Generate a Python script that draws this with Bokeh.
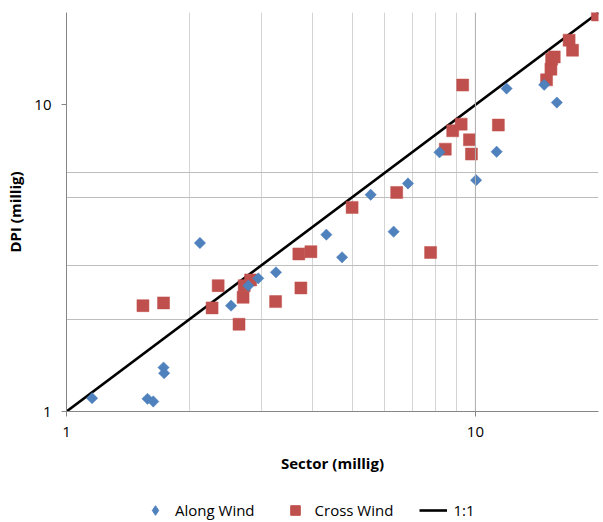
from bokeh.plotting import figure
from bokeh.models import FixedTicker, Legend, LegendItem, Span
from bokeh.layouts import column
from bokeh.embed import file_html
from bokeh.resources import INLINE

# Along Wind (blue diamonds)
along_x = [1.155, 1.578, 1.63, 1.727, 1.733, 2.12, 2.526, 2.784, 2.944, 3.253,
           4.32, 4.72, 5.545, 6.31, 6.84, 8.17, 10.04, 11.27, 11.92, 14.73, 15.82]
along_y = [1.105, 1.10, 1.078, 1.391, 1.333, 3.544, 2.214, 2.573, 2.718, 2.843,
           3.772, 3.182, 5.09, 3.858, 5.54, 7.0, 5.68, 7.03, 11.3, 11.62, 10.17]

# Cross Wind (red squares)
cross_x = [1.538, 1.727, 2.27, 2.349, 2.642, 2.703, 2.72, 2.82, 3.246, 3.70,
           3.743, 3.96, 4.994, 6.42, 7.77, 8.44, 8.80, 9.23, 9.67, 9.78,
           9.31, 11.38, 14.93, 15.3, 15.36, 15.59, 16.95, 17.28, 19.87]
cross_y = [2.214, 2.26, 2.177, 2.573, 1.925, 2.357, 2.573, 2.685, 2.282, 3.264,
           2.529, 3.32, 4.63, 5.18, 3.30, 7.17, 8.23, 8.65, 7.69, 6.91,
           11.6, 8.59, 12.06, 13.07, 14.09, 14.33, 16.25, 15.07, 19.64]

# 1:1 reference line
line_vals = [1, 20]

x_ticks = [1, 10]
x_tick_labels = ["1", "10"]
y_ticks = [1, 10]
y_tick_labels = ["1", "10"]
x_grid_vals = [2, 3, 4, 5, 6, 7, 8, 9, 10, 20]
y_grid_vals = [2, 3, 5, 6]

BLUE = "#4F81BD"
RED = "#C0504D"
FONT = "Open Sans"

p = figure(width=603, height=498, x_axis_type="log", y_axis_type="log",
           x_range=(1, 20), y_range=(1, 20),
           output_backend="svg", toolbar_location=None,
           min_border_left=66, min_border_right=5, min_border_top=12,
           min_border_bottom=87)
p.outline_line_color = None

# grids
p.xgrid.ticker = FixedTicker(ticks=x_grid_vals)
p.ygrid.ticker = FixedTicker(ticks=y_grid_vals)
p.xgrid.grid_line_color = "#d4d4d4"
p.ygrid.grid_line_color = "#bdbdbd"
p.add_layout(Span(location=10, dimension="height", line_color="#b0b0b0", line_width=1))

# axes
for ax, ticks, labels in ((p.xaxis[0], x_ticks, x_tick_labels), (p.yaxis[0], y_ticks, y_tick_labels)):
    ax.ticker = FixedTicker(ticks=ticks)
    ax.major_label_overrides = {t: l for t, l in zip(ticks, labels)}
    ax.minor_tick_line_color = None
    ax.major_tick_in = 0
    ax.major_tick_out = 5
    ax.axis_line_color = "#868686"
    ax.major_tick_line_color = "#868686"
    ax.major_label_text_font = FONT
    ax.major_label_text_font_size = "15px"
    ax.major_label_text_color = "#000000"
    ax.axis_label_text_font = FONT
    ax.axis_label_text_font_size = "15px"
    ax.axis_label_text_font_style = "bold"
    ax.axis_label_text_color = "#000000"

p.xaxis.axis_label = "Sector (millig)"
p.yaxis.axis_label = "DPI (millig)"
p.xaxis.major_label_standoff = 10
p.xaxis.axis_label_standoff = 13
p.yaxis.major_label_standoff = 10
p.yaxis.axis_label_standoff = 6

p.line(line_vals, line_vals, line_color="black", line_width=2.6)
p.scatter(cross_x, cross_y, marker="square", size=12,
          fill_color=RED, line_color=RED, line_width=0.5)
p.scatter(along_x, along_y, marker="square", angle=0.785398, size=8,
          fill_color=BLUE, line_color=BLUE, line_width=0.5)

# legend strip: same series drawn on a range that keeps them out of view,
# so only their legend symbols show
leg = figure(width=603, height=24, x_range=(0, 0.5), y_range=(0, 0.5),
             output_backend="svg", toolbar_location=None,
             x_axis_location=None, y_axis_location=None,
             min_border=0, min_border_left=0, min_border_right=0,
             min_border_top=0, min_border_bottom=0)
leg.outline_line_color = None
leg.xgrid.visible = False
leg.ygrid.visible = False
l_along = leg.scatter(along_x, along_y, marker="diamond", size=12,
                      fill_color=BLUE, line_color=BLUE)
l_cross = leg.scatter(cross_x, cross_y, marker="square", size=12,
                      fill_color=RED, line_color=RED)
l_line = leg.line(line_vals, line_vals, line_color="black", line_width=2.6)

legend = Legend(items=[LegendItem(label="Along Wind", renderers=[l_along]),
                       LegendItem(label="Cross Wind", renderers=[l_cross]),
                       LegendItem(label="1:1", renderers=[l_line])],
                orientation="horizontal", location=(75, 0),
                glyph_width=28, glyph_height=24, label_standoff=6, spacing=26,
                padding=0, margin=0,
                border_line_color=None, background_fill_alpha=0,
                label_text_font=FONT, label_text_font_size="15px",
                label_text_color="#000000")
leg.add_layout(legend)

open("out.html", "w").write(file_html(column(p, leg), INLINE))
